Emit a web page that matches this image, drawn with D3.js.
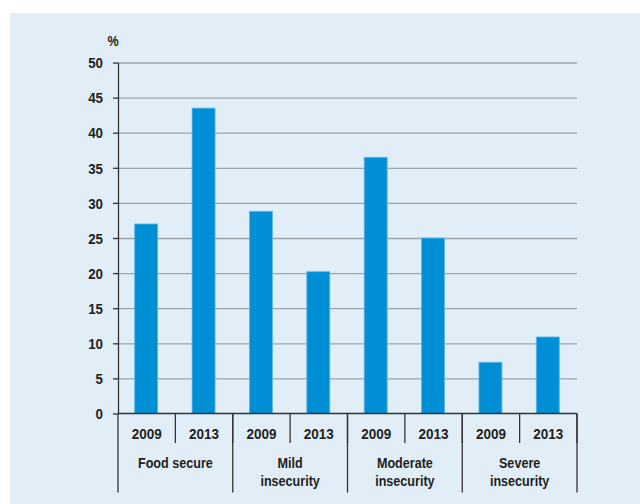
<!DOCTYPE html>
<html>
<head>
<meta charset="utf-8">
<script src="https://cdn.jsdelivr.net/npm/d3@7"></script>
<style>
  body { margin: 0; background: #fff; }
  text { font-family: "Liberation Sans", Arial, sans-serif; font-weight: bold; fill: #231f20; }
</style>
</head>
<body>
<div id="chart"></div>
<script>
const WIDTH = 640;
const HEIGHT = 504;

// data
const groups = [["Food secure"], ["Mild", "insecurity"], ["Moderate", "insecurity"], ["Severe", "insecurity"]];
const years = ["2009", "2013"];
const values2009 = [27.0, 28.8, 36.5, 7.3];
const values2013 = [43.5, 20.2, 25.0, 10.9];
const yTicks = [0, 5, 10, 15, 20, 25, 30, 35, 40, 45, 50];

// condensed look: squeeze horizontally
function narrow(sel, x, y, sx){
    return sel.attr("transform", "translate(" + x + "," + y + ") scale(" + sx + ",1)");
}

function setup(){
    let svg = d3.select("#chart")
        .append("svg")
        .attr("width", WIDTH)
        .attr("height", HEIGHT);

    // light blue panel
    svg.append("rect")
        .attr("x", 10)
        .attr("y", 13)
        .attr("width", WIDTH - 10)
        .attr("height", HEIGHT - 13)
        .attr("fill", "#e1eef8");

    let left = 118, right = 577, top = 62.5, bottom = 413.5;

    let bars = [];
    groups.forEach((g, i) => {
        bars.push({ key: i + "-2009", year: years[0], value: values2009[i] });
        bars.push({ key: i + "-2013", year: years[1], value: values2013[i] });
    });

    let x = d3.scaleBand()
        .domain(bars.map(d => d.key))
        .range([left, right]);
    let xGroup = d3.scaleBand()
        .domain(groups.map((g, i) => i))
        .range([left, right]);
    let y = d3.scaleLinear()
        .domain([0, 50])
        .range([bottom, top]);

    // gridlines
    let grid = svg.append("g")
        .attr("transform", "translate(" + left + ",0)")
        .call(d3.axisRight(y).tickValues(yTicks.slice(1)).tickSize(right - left).tickFormat(""));
    grid.select(".domain").remove();
    grid.selectAll("line").attr("stroke", "#9ea3a8").attr("stroke-width", 1.3);

    // y axis
    let yAxis = svg.append("g")
        .attr("transform", "translate(" + left + ",0)")
        .call(d3.axisLeft(y).tickValues(yTicks).tickSize(5).tickPadding(10).tickSizeOuter(0));
    yAxis.select(".domain").attr("stroke", "#333").attr("stroke-width", 1.3);
    yAxis.selectAll("line").attr("stroke", "#333").attr("stroke-width", 1.3);
    yAxis.selectAll("text")
        .attr("font-size", 14.5)
        .style("font-family", "\"Liberation Sans\", Arial, sans-serif")
        .style("font-weight", "bold")
        .attr("fill", "#231f20")
        .attr("x", 0)
        .attr("dy", "0.36em")
        .attr("transform", "translate(-15,0) scale(0.92,1)");

    narrow(svg.append("text"), 113, 46, 0.9)
        .attr("text-anchor", "middle")
        .attr("font-size", 14)
        .text("%");

    // bars
    let bw = x.bandwidth() * 0.4;
    svg.selectAll(".bar")
        .data(bars)
        .enter()
        .append("rect")
        .attr("class", "bar")
        .attr("x", d => x(d.key) + (x.bandwidth() - bw) / 2 - 0.5)
        .attr("width", bw)
        .attr("y", d => y(d.value))
        .attr("height", d => bottom - y(d.value))
        .attr("fill", "#008fd5")
        .attr("stroke", "#5cb6e8")
        .attr("stroke-width", 0.8);

    // x axis line
    svg.append("line")
        .attr("x1", left).attr("x2", right)
        .attr("y1", bottom).attr("y2", bottom)
        .attr("stroke", "#333").attr("stroke-width", 1.3);

    // year dividers and labels
    svg.selectAll(".ydiv")
        .data(bars)
        .enter()
        .append("line")
        .attr("class", "ydiv")
        .attr("x1", d => x(d.key) + x.bandwidth())
        .attr("x2", d => x(d.key) + x.bandwidth())
        .attr("y1", bottom)
        .attr("y2", 443)
        .attr("stroke", "#333")
        .attr("stroke-width", 1.3);

    svg.selectAll(".ylab")
        .data(bars)
        .enter()
        .append("text")
        .attr("class", "ylab")
        .attr("transform", d => "translate(" + (x(d.key) + x.bandwidth() / 2) + ",438.5) scale(0.9,1)")
        .attr("text-anchor", "middle")
        .attr("font-size", 15)
        .text(d => d.year);

    // group dividers
    let edges = groups.map((g, i) => xGroup(i)).concat([right]);
    svg.selectAll(".gdiv")
        .data(edges)
        .enter()
        .append("line")
        .attr("class", "gdiv")
        .attr("x1", d => d).attr("x2", d => d)
        .attr("y1", bottom)
        .attr("y2", 492.5)
        .attr("stroke", "#333")
        .attr("stroke-width", 1.3);

    groups.forEach((g, i) => {
        g.forEach((t, j) => {
            narrow(svg.append("text"), xGroup(i) + xGroup.bandwidth() / 2, 468 + j * 18, 0.84)
                .attr("class", "glab")
                .attr("text-anchor", "middle")
                .attr("font-size", 15)
                .text(t);
        });
    });
}

window.addEventListener("load", setup);
</script>
</body>
</html>
